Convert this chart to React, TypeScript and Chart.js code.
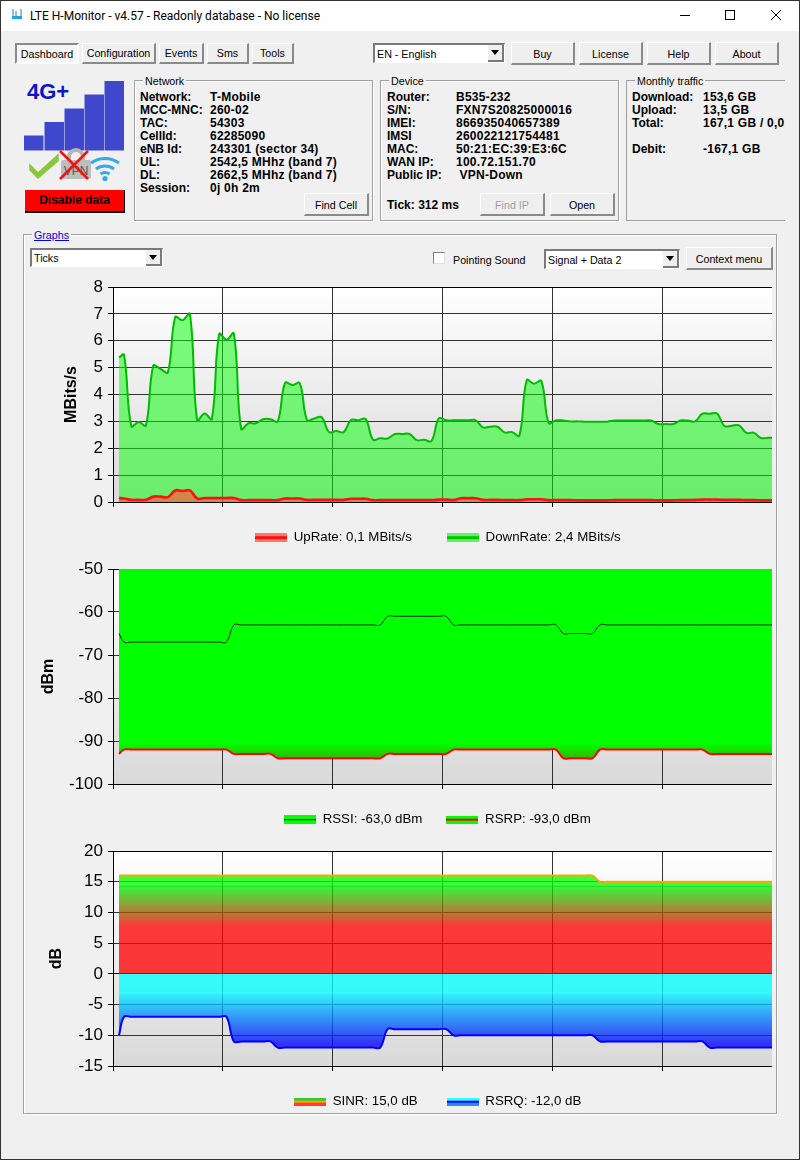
import React, { useEffect, useRef } from "react";
import { Chart, registerables } from "chart.js";

Chart.register(...registerables);

// ---------- data (one sample per index, 15 samples per grid division) ----------
const upRate = [
  0.15, 0.13, 0.08, 0.08, 0.08, 0.2, 0.2, 0.18, 0.43, 0.41, 0.43, 0.13, 0.15, 0.15, 0.15, 0.15,
  0.15, 0.07, 0.07, 0.07, 0.07, 0.07, 0.07, 0.13, 0.13, 0.13, 0.08, 0.08, 0.08, 0.08, 0.08, 0.08,
  0.12, 0.12, 0.12, 0.07, 0.07, 0.07, 0.07, 0.07, 0.07, 0.07, 0.07, 0.07, 0.09, 0.09, 0.07, 0.14,
  0.14, 0.14, 0.08, 0.08, 0.08, 0.07, 0.07, 0.07, 0.1, 0.1, 0.1, 0.07, 0.07, 0.07, 0.07, 0.06,
  0.06, 0.06, 0.06, 0.06, 0.07, 0.07, 0.07, 0.07, 0.07, 0.07, 0.06, 0.06, 0.06, 0.07, 0.07, 0.08,
  0.09, 0.09, 0.09, 0.08, 0.08, 0.08, 0.07, 0.07, 0.06, 0.06, 0.06,
];
const downRate = [
  5.38, 5.48, 2.82, 2.98, 2.85, 5.07, 4.95, 4.83, 6.88, 6.76, 7.0, 3.04, 3.29, 3.09, 6.25, 6.04,
  6.27, 2.72, 2.93, 2.93, 3.08, 3.08, 3.0, 4.43, 4.35, 4.42, 3.05, 3.11, 3.15, 2.6, 2.64, 2.6,
  3.05, 3.04, 3.09, 2.32, 2.37, 2.36, 2.53, 2.53, 2.53, 2.3, 2.32, 2.27, 3.11, 3.04, 3.04, 3.04,
  3.04, 3.05, 2.78, 2.8, 2.8, 2.59, 2.6, 2.47, 4.53, 4.4, 4.5, 2.94, 3.04, 3.03, 3.0, 3.0,
  2.99, 2.99, 2.99, 2.99, 3.03, 3.03, 3.03, 3.03, 3.03, 3.03, 2.9, 2.9, 2.9, 3.03, 3.03, 3.0,
  3.29, 3.28, 3.29, 2.83, 2.84, 2.85, 2.57, 2.58, 2.38, 2.39, 2.39,
];
const rssi = [
  -65, -67, -67, -67, -67, -67, -67, -67, -67, -67, -67, -67, -67, -67, -67, -67,
  -63, -63, -63, -63, -63, -63, -63, -63, -63, -63, -63, -63, -63, -63, -63, -63,
  -63, -63, -63, -63, -63, -61, -61, -61, -61, -61, -61, -61, -61, -61, -63, -63,
  -63, -63, -63, -63, -63, -63, -63, -63, -63, -63, -63, -63, -63, -65, -65, -65,
  -65, -65, -63, -63, -63, -63, -63, -63, -63, -63, -63, -63, -63, -63, -63, -63,
  -63, -63, -63, -63, -63, -63, -63, -63, -63, -63, -63,
];
const rsrp = [
  -93, -92, -92, -92, -92, -92, -92, -92, -92, -92, -92, -92, -92, -92, -92, -92,
  -93, -93, -93, -93, -93, -93, -94, -94, -94, -94, -94, -94, -94, -94, -94, -94,
  -94, -94, -94, -94, -94, -93, -93, -93, -93, -93, -93, -93, -93, -93, -92, -92,
  -92, -92, -92, -92, -92, -92, -92, -92, -92, -92, -92, -92, -92, -94, -94, -94,
  -94, -94, -92, -92, -92, -92, -92, -92, -92, -92, -92, -92, -92, -92, -92, -92,
  -92, -93, -93, -93, -93, -93, -93, -93, -93, -93, -93,
];
const sinr = [
  16, 16, 16, 16, 16, 16, 16, 16, 16, 16, 16, 16, 16, 16, 16, 16,
  16, 16, 16, 16, 16, 16, 16, 16, 16, 16, 16, 16, 16, 16, 16, 16,
  16, 16, 16, 16, 16, 16, 16, 16, 16, 16, 16, 16, 16, 16, 16, 16,
  16, 16, 16, 16, 16, 16, 16, 16, 16, 16, 16, 16, 16, 16, 16, 16,
  16, 16, 15, 15, 15, 15, 15, 15, 15, 15, 15, 15, 15, 15, 15, 15,
  15, 15, 15, 15, 15, 15, 15, 15, 15, 15, 15,
];
const rsrq = [
  -10, -7, -7, -7, -7, -7, -7, -7, -7, -7, -7, -7, -7, -7, -7, -7,
  -11, -11, -11, -11, -11, -11, -12, -12, -12, -12, -12, -12, -12, -12, -12, -12,
  -12, -12, -12, -12, -12, -9, -9, -9, -9, -9, -9, -9, -9, -9, -10, -10,
  -10, -10, -10, -10, -10, -10, -10, -10, -10, -10, -10, -10, -10, -10, -10, -10,
  -10, -10, -11, -11, -11, -11, -11, -11, -11, -11, -11, -11, -11, -11, -11, -11,
  -11, -12, -12, -12, -12, -12, -12, -12, -12, -12, -12,
];
const networkRows = [
  ["Network:", "T-Mobile"], ["MCC-MNC:", "260-02"], ["TAC:", "54303"], ["CellId:", "62285090"],
  ["eNB Id:", "243301 (sector 34)"], ["UL:", "2542,5 MHhz (band 7)"], ["DL:", "2662,5 MHhz (band 7)"], ["Session:", "0j 0h 2m"],
];
const deviceRows = [
  ["Router:", "B535-232"], ["S/N:", "FXN7S20825000016"], ["IMEI:", "866935040657389"], ["IMSI", "260022121754481"],
  ["MAC:", "50:21:EC:39:E3:6C"], ["WAN IP:", "100.72.151.70"], ["Public IP:", " VPN-Down"],
];
const trafficRows = [
  ["Download:", "153,6 GB"], ["Upload:", "13,5 GB"], ["Total:", "167,1 GB / 0,0 GB"], ["", ""], ["Debit:", "-167,1 GB"],
];

const FONT = "'Liberation Sans', Arial, sans-serif";
const UI_SIZE = 10.7;
const LEGEND_SIZE = 13.3;
const toPoints = (vals: number[]) => vals.map((y, k) => ({ x: k === 0 ? 0.82 : k + 0.5, y }));

function patch(stripes: [string, number][]) {
  const c = document.createElement("canvas");
  const h = stripes.reduce((s, p) => s + p[1], 0);
  c.width = 32;
  c.height = h;
  const g = c.getContext("2d")!;
  let y = 0;
  for (const [col, t] of stripes) {
    g.fillStyle = col;
    g.fillRect(0, y, 32, t);
    y += t;
  }
  return c;
}

function vGrad(chart: any, stops: [number, string][]) {
  const area = chart.chartArea;
  if (!area) return "rgba(0,0,0,0)";
  const sc = chart.scales.y;
  const y0 = sc.getPixelForValue(stops[0][0]);
  const y1 = sc.getPixelForValue(stops[stops.length - 1][0]);
  const gr = chart.ctx.createLinearGradient(0, y0, 0, y1);
  stops.forEach(([v, col]) => {
    gr.addColorStop((sc.getPixelForValue(v) - y0) / (y1 - y0), col);
  });
  return gr;
}

const plotBackdrop = {
  id: "plotBackdrop",
  beforeDraw(chart: any) {
    const a = chart.chartArea;
    const c = chart.ctx;
    const g = c.createLinearGradient(0, a.top, 0, a.bottom);
    g.addColorStop(0, "#ffffff");
    g.addColorStop(1, "#d9d9d9");
    c.save();
    c.fillStyle = g;
    c.fillRect(a.left, a.top, a.right - a.left, a.bottom - a.top);
    c.restore();
  },
};

function LteChart(p: {
  left: number; top: number; title: string; min: number; max: number; step: number;
  datasets: any[]; patches: () => HTMLCanvasElement[]; gap: number; legendX: number; legendY: number;
}) {
  const ref = useRef<HTMLCanvasElement>(null);
  useEffect(() => {
    const patches = p.patches();
    const legendShift = {
      id: "legendShift",
      afterLayout(chart: any) {
        const l = chart.legend;
        l.left = p.legendX - p.left - p.gap;
        l.top = p.legendY - p.top - p.gap - 7;
        l.right = 800;
      },
    };
    const chart = new Chart(ref.current!, {
      type: "line",
      data: { datasets: p.datasets },
      plugins: [plotBackdrop, legendShift],
      options: {
        animation: false,
        responsive: false,
        parsing: false,
        normalized: true,
        layout: { padding: { top: 17, left: 0, right: 0, bottom: 0 } },
        elements: { point: { radius: 0 }, line: { tension: 0.4 } },
        plugins: {
          tooltip: { enabled: false },
          legend: {
            position: "bottom",
            align: "start",
            maxHeight: 40,
            labels: {
              usePointStyle: true,
              pointStyleWidth: 32,
              padding: p.gap,
              color: "#000",
              font: { family: FONT, size: LEGEND_SIZE },
              generateLabels: (c: any) =>
                c.data.datasets.map((d: any, i: number) => ({
                  text: d.label, pointStyle: patches[i], datasetIndex: i, hidden: false, fontColor: "#000",
                })),
            },
          },
        },
        scales: {
          x: {
            type: "linear",
            min: 0,
            max: 90,
            afterBuildTicks: (s: any) => { s.ticks = s.ticks.filter((t: any) => t.value < 90); },
            afterFit: (s: any) => { s.height = 5; },
            ticks: { stepSize: 15, display: false },
            grid: { color: "#333333", tickColor: "#000", tickLength: 5, lineWidth: 1 },
            border: { color: "#000", width: 1 },
          },
          y: {
            min: p.min,
            max: p.max,
            afterFit: (s: any) => { s.width = 113 - p.left; },
            ticks: { stepSize: p.step, color: "#000", padding: 5, font: { family: FONT, size: 17 } },
            grid: {
              color: (c: any) => (c.tick && (c.tick.value === p.max || c.tick.value === 0 && p.min < 0) ? "#000" : "#333333"),
              tickColor: "#000",
              tickLength: 5,
            },
            border: { color: "#000", width: 1 },
            title: { display: true, text: p.title, color: "#000", font: { family: FONT, size: 16, weight: "bold" } },
          },
        },
      },
    } as any);
    return () => chart.destroy();
  }, []);
  return (
    <canvas
      ref={ref}
      width={772 - p.left}
      height={277}
      style={{ position: "absolute", left: p.left, top: p.top, width: 772 - p.left, height: 277 }}
    />
  );
}

function T(p: { x: number; y: number; s: string; bold?: boolean; size?: number; color?: string; font?: string; style?: any }) {
  return (
    <div
      style={{
        position: "absolute", left: p.x, top: p.y - 8, height: 16, lineHeight: "16px", whiteSpace: "pre",
        fontFamily: p.font || FONT, fontSize: p.size || 12, fontWeight: p.bold ? 700 : 400, color: p.color || "#000", ...p.style,
      }}
    >
      {p.s}
    </div>
  );
}

function Btn(p: { x: number; y: number; w: number; h: number; s: string; pressed?: boolean; disabled?: boolean }) {
  return (
    <div
      style={{
        position: "absolute", left: p.x, top: p.y, width: p.w, height: p.h, boxSizing: "border-box",
        background: p.pressed ? "#f6f6f6" : "#efefef",
        borderTop: p.pressed ? "2px solid #8a8a8a" : "1px solid #fff",
        borderLeft: p.pressed ? "2px solid #8a8a8a" : "1px solid #fff",
        borderRight: p.pressed ? "2px solid #fff" : "2px solid #8a8a8a",
        borderBottom: p.pressed ? "2px solid #fff" : "2px solid #8a8a8a",
        textAlign: "center", lineHeight: `${p.h >= 23 ? p.h - 1 : p.h - 3}px`, fontFamily: FONT, fontSize: UI_SIZE,
        color: p.disabled ? "#a0a0a0" : "#000", whiteSpace: "nowrap",
      }}
    >
      {p.s}
    </div>
  );
}

function Combo(p: { x: number; y: number; w: number; h: number; s: string }) {
  return (
    <div
      style={{
        position: "absolute", left: p.x, top: p.y, width: p.w, height: p.h, boxSizing: "border-box", background: "#fff",
        borderTop: "2px solid #7a7a7a", borderLeft: "2px solid #7a7a7a", borderRight: "1px solid #fff", borderBottom: "1px solid #fff",
        fontFamily: FONT, fontSize: UI_SIZE, lineHeight: `${p.h - 2}px`, paddingLeft: 2, whiteSpace: "nowrap",
      }}
    >
      {p.s}
      <div style={{ position: "absolute", right: 0, top: 0, bottom: 0, width: 16, background: "#efefef", boxSizing: "border-box", borderRight: "2px solid #7a7a7a", borderBottom: "2px solid #7a7a7a" }}>
        <div style={{ position: "absolute", left: 3, top: 5, width: 0, height: 0, borderLeft: "4px solid transparent", borderRight: "4px solid transparent", borderTop: "5px solid #000" }} />
      </div>
    </div>
  );
}

function Group(p: { x: number; y: number; w: number; h: number; s: string; link?: boolean; noRight?: boolean }) {
  const base = { position: "absolute" as const, left: p.x, top: p.y, width: p.w, height: p.h, boxSizing: "border-box" as const };
  return (
    <>
      <div
        style={{
          ...base, border: "1px solid #a0a0a0", borderRight: p.noRight ? "none" : "1px solid #a0a0a0",
          boxShadow: p.noRight ? "none" : "inset 1px 1px 0 #fff, 1px 1px 0 #fff",
        }}
      />
      <div
        style={{
          position: "absolute", left: p.x + 9, top: p.y - 7, height: 16, lineHeight: "16px", padding: "0 2px", background: "#f0f0f0",
          fontFamily: FONT, fontSize: UI_SIZE, color: p.link ? "#0000ee" : "#000", textDecoration: p.link ? "underline" : "none",
        }}
      >
        {p.s}
      </div>
    </>
  );
}

function Rows(p: { x: number; vx: number; rows: string[][] }) {
  return (
    <>
      {p.rows.map((r, i) => (
        <React.Fragment key={i}>
          <T x={p.x} y={97 + i * 13} s={r[0]} bold />
          <T x={p.vx} y={97 + i * 13} s={r[1]} bold style={{ letterSpacing: 0.25 }} />
        </React.Fragment>
      ))}
    </>
  );
}

function StatusIcon() {
  return (
    <svg width={110} height={110} viewBox="0 0 110 110" style={{ position: "absolute", left: 20, top: 75 }}>
      <rect x={4} y={60.5} width={19.5} height={15} fill="#3f48cc" />
      <rect x={24.5} y={47} width={19.5} height={28.5} fill="#3f48cc" />
      <rect x={44.5} y={33.5} width={19.5} height={42} fill="#3f48cc" />
      <rect x={64.5} y={19.5} width={19.5} height={56} fill="#3f48cc" />
      <rect x={84.5} y={6} width={19.5} height={69.5} fill="#3f48cc" />
      <text x={7} y={24} fontFamily={FONT} fontWeight={700} fontSize={22} fill="#0a14c8">4G+</text>
      <path d="M10 90 L18 98 L38 80 L38 86 L18 103 L10 95 Z" fill="#8cc63f" stroke="#8cc63f" strokeWidth={1.5} />
      <path d="M47 82 a9 9 0 0 1 18 0 v3 h-4 v-3 a5 5 0 0 0 -10 0 v3 h-4 z" fill="#b4b4b4" />
      <rect x={41} y={85} width={30} height={19} rx={2} fill="#bdbdbd" />
      <text x={56} y={100} textAnchor="middle" fontFamily={FONT} fontSize={12} fill="#555">VPN</text>
      <path d="M40 76 L68 104 M68 76 L40 104" stroke="#f01414" strokeWidth={2.6} />
      <path d="M71 88 a24 24 0 0 1 28 0" stroke="#39a9e6" strokeWidth={3} fill="none" />
      <path d="M76 94 a15 15 0 0 1 18 0" stroke="#39a9e6" strokeWidth={3} fill="none" />
      <path d="M80.5 99 a8 8 0 0 1 9 0" stroke="#39a9e6" strokeWidth={3} fill="none" />
      <circle cx={85} cy={103.5} r={2.6} fill="#39a9e6" />
    </svg>
  );
}

const rateDatasets = [
  { label: "UpRate: 0,1 MBits/s", data: toPoints(upRate), borderColor: "#ff1010", borderWidth: 2.6, fill: "origin", backgroundColor: "rgba(255,90,60,0.7)" },
  { label: "DownRate: 2,4 MBits/s", data: toPoints(downRate), borderColor: "#00bb00", borderWidth: 2, fill: "origin", backgroundColor: "rgba(0,255,0,0.5)" },
];
const powerDatasets = [
  { label: "RSSI: -63,0 dBm", data: toPoints(rssi), borderColor: "#103010", borderWidth: 1, fill: false },
  {
    label: "RSRP: -93,0 dBm", data: toPoints(rsrp), borderColor: "#ff0000", borderWidth: 2, fill: "end",
    backgroundColor: (c: any) => vGrad(c.chart, [[-90.5, "#00ff00"], [-94.5, "#38b000"]]),
  },
];
const qualityDatasets = [
  {
    label: "SINR: 15,0 dB", data: toPoints(sinr), borderColor: "#ffa500", borderWidth: 2, fill: "origin",
    backgroundColor: (c: any) => vGrad(c.chart, [[14.4, "rgba(0,255,0,0.77)"], [14.25, "rgba(0,215,0,0.88)"], [14.1, "rgba(0,240,0,0.77)"], [7.7, "rgba(255,0,0,0.77)"]]),
  },
  {
    label: "RSRQ: -12,0 dB", data: toPoints(rsrq), borderColor: "#0000ff", borderWidth: 2, fill: "origin",
    backgroundColor: (c: any) => vGrad(c.chart, [[-3, "rgba(0,255,255,0.77)"], [-3.12, "rgba(40,255,255,0.92)"], [-3.25, "rgba(0,245,255,0.77)"], [-11.3, "rgba(0,0,255,0.77)"]]),
  },
];

export default function App() {
  useEffect(() => {
    document.body.style.margin = "0";
  }, []);
  return (
    <div style={{ position: "absolute", left: 0, top: 0, width: 800, height: 1160, overflow: "hidden", background: "#f0f0f0", boxSizing: "border-box" }}>
      {/* title bar */}
      <div style={{ position: "absolute", left: 0, top: 0, width: 800, height: 31, background: "#fff" }} />
      <svg width={14} height={14} viewBox="0 0 14 14" style={{ position: "absolute", left: 10, top: 7 }}>
        <rect x={2} y={9} width={10} height={3} fill="#23a5dc" />
        <path d="M3 2v7M6 4v5M11 2v7" stroke="#2a7fc0" strokeWidth={1} />
      </svg>
      <T x={30} y={16} s="LTE H-Monitor - v4.57 - Readonly database - No license" font="Roboto, sans-serif" size={12} />
      <div style={{ position: "absolute", left: 680, top: 15, width: 10, height: 1, background: "#000" }} />
      <div style={{ position: "absolute", left: 725, top: 10, width: 10, height: 10, border: "1px solid #000", boxSizing: "border-box" }} />
      <svg width={12} height={12} style={{ position: "absolute", left: 770, top: 9 }}>
        <path d="M1 1L11 11M11 1L1 11" stroke="#000" strokeWidth={1} />
      </svg>

      {/* toolbar */}
      <Btn x={15} y={43} w={64} h={21} s="Dashboard" pressed />
      <Btn x={82} y={43} w={74} h={21} s="Configuration" />
      <Btn x={159} y={43} w={45} h={21} s="Events" />
      <Btn x={207} y={43} w={42} h={21} s="Sms" />
      <Btn x={252} y={43} w={42} h={21} s="Tools" />
      <Combo x={373} y={43} w={132} h={20} s="EN - English" />
      <Btn x={511} y={42} w={64} h={23} s="Buy" />
      <Btn x={579} y={42} w={64} h={23} s="License" />
      <Btn x={647} y={42} w={64} h={23} s="Help" />
      <Btn x={715} y={42} w={64} h={23} s="About" />

      {/* status */}
      <StatusIcon />
      <div
        style={{
          position: "absolute", left: 25, top: 190, width: 100, height: 23, boxSizing: "border-box", background: "#ff0000",
          borderRight: "1px solid #000", borderBottom: "2px solid #000", textAlign: "center", lineHeight: "21px",
          fontFamily: FONT, fontWeight: 700, fontSize: 12, color: "#000",
        }}
      >
        Disable data
      </div>

      {/* info groups */}
      <Group x={134} y={80} w={239} h={141} s="Network" />
      <Rows x={140} vx={210} rows={networkRows} />
      <Btn x={304} y={193} w={65} h={23} s="Find Cell" />

      <Group x={380} y={80} w={239} h={141} s="Device" />
      <Rows x={387} vx={456} rows={deviceRows} />
      <T x={387} y={205} s="Tick: 312 ms" bold />
      <Btn x={480} y={193} w={65} h={23} s="Find IP" disabled />
      <Btn x={550} y={193} w={65} h={23} s="Open" />

      <Group x={626} y={80} w={159} h={141} s="Monthly traffic" noRight />
      <div style={{ position: "absolute", left: 0, top: 0, width: 785, height: 230, overflow: "hidden" }}>
        <Rows x={632} vx={703} rows={trafficRows} />
      </div>

      {/* graphs */}
      <Group x={23} y={234} w={754} h={880} s="Graphs" link />
      <Combo x={30} y={248} w={133} h={19} s="Ticks" />
      <div style={{ position: "absolute", left: 433, top: 252, width: 12, height: 12, boxSizing: "border-box", background: "#fff", borderTop: "1px solid #808080", borderLeft: "1px solid #808080", borderRight: "1px solid #e0e0e0", borderBottom: "1px solid #e0e0e0" }} />
      <T x={453} y={260} s="Pointing Sound" size={UI_SIZE} />
      <Combo x={544} y={249} w={136} h={20} s="Signal + Data 2" />
      <Btn x={686} y={247} w={87} h={23} s="Context menu" />

      <LteChart left={58} top={270} title="MBits/s" min={0} max={8} step={1} datasets={rateDatasets}
        patches={() => [
          patch([["#ff7a66", 3], ["#ff1010", 3], ["#ff7a66", 3]]),
          patch([["#66ee66", 3], ["#00c800", 3], ["#66ee66", 3]]),
        ]}
        gap={35} legendX={255} legendY={538} />
      <LteChart left={35} top={552} title="dBm" min={-100} max={-50} step={10} datasets={powerDatasets}
        patches={() => [
          patch([["#00ff00", 4], ["#000000", 1], ["#00ff00", 4]]),
          patch([["#00ff00", 3], ["#ff0000", 2], ["#00ff00", 3]]),
        ]}
        gap={24} legendX={284} legendY={820} />
      <LteChart left={43} top={834} title="dB" min={-15} max={20} step={5} datasets={qualityDatasets}
        patches={() => [
          patch([["#30cc30", 3], ["#ffa500", 2], ["#ff3a3a", 3]]),
          patch([["#33ffff", 3], ["#0000ff", 2], ["#3388ff", 3]]),
        ]}
        gap={29} legendX={294} legendY={1102} />

      {/* window frame */}
      <div style={{ position: "absolute", left: 0, top: 0, width: 800, height: 1160, boxSizing: "border-box", border: "1px solid #333", pointerEvents: "none" }} />
    </div>
  );
}
